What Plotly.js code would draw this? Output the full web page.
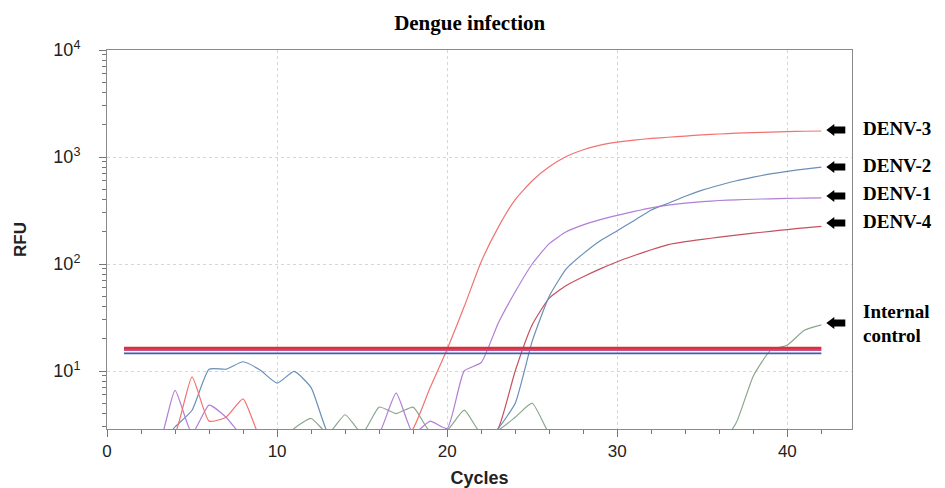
<!DOCTYPE html>
<html>
<head>
<meta charset="utf-8">
<script src="https://cdn.plot.ly/plotly-3.0.1.min.js"></script>
<style>html,body{margin:0;padding:0;background:#fff;}#chart{width:945px;height:488px;}</style>
</head>
<body>
<div id="chart"></div>
<script>
// ---- data ----
var cycles = [1,2,3,4,5,6,7,8,9,10,11,12,13,14,15,16,17,18,19,20,21,22,23,24,25,26,27,28,29,30,31,32,33,34,35,36,37,38,39,40,41,42];

var denv3 = [2.0,2.0,2.0,2.6,8.8,3.4,3.7,5.5,2.4,2.0,2.0,2.0,2.0,2.0,2.0,2.0,2.0,2.9,7.0,16,40,105,220,400,600,810,1010,1170,1290,1375,1440,1490,1530,1570,1610,1640,1670,1690,1710,1725,1740,1750];
var denv2 = [2.0,2.0,2.0,3.0,4.3,10.4,10.4,12.2,10.2,7.7,9.9,7.0,2.6,2.0,2.0,2.0,2.0,2.0,2.0,2.0,2.0,2.0,2.9,5.0,19,50,90,125,165,205,255,320,370,430,490,545,600,648,695,735,770,805];
var denv1 = [2.0,2.0,2.0,6.6,2.6,4.8,3.7,2.4,2.0,2.0,2.0,2.0,2.0,2.0,2.0,2.6,6.2,2.6,3.4,2.9,10,12,28,55,100,155,200,232,260,285,310,335,355,370,382,392,398,403,407,410,413,415];
var denv4 = [2.0,2.0,2.0,2.0,2.0,2.0,2.0,2.0,2.0,2.0,2.0,2.0,2.0,2.0,2.0,2.0,2.0,2.0,2.0,2.0,2.0,2.0,2.9,10,27,48,63,76,90,105,120,136,152,162,170,178,186,194,202,210,218,225];
var internalControl = [2.0,2.0,2.0,2.0,2.0,2.0,2.0,2.0,2.0,2.0,2.9,3.6,2.6,3.9,2.6,4.6,4.0,4.6,2.7,2.8,4.3,2.6,2.8,3.7,5.0,2.6,2.0,2.0,2.0,2.0,2.0,2.0,2.0,2.0,2.0,2.0,3.3,9,15.5,17.5,24,27];

var thresholdCycles = [1, 42];
var thresholdRed = [16.4, 16.4];
var thresholdPink = [15.7, 15.7];
var thresholdBlue = [14.6, 14.6];

var yTickVals = [10, 100, 1000, 10000];
var yTickText = ['10<sup>1</sup>', '10<sup>2</sup>', '10<sup>3</sup>', '10<sup>4</sup>'];

var seriesLabels = ['DENV-3', 'DENV-2', 'DENV-1', 'DENV-4', 'Internal', 'control'];

// ---- styling ----
var sansFont = 'Liberation Sans, Arial, sans-serif';
var serifFont = 'Liberation Serif, Times New Roman, serif';

function curve(y, color, name) {
  return {x: cycles, y: y, type: 'scatter', mode: 'lines', name: name,
          line: {color: color, width: 1.2, shape: 'spline', smoothing: 0.5}, hoverinfo: 'skip'};
}
function thr(y, color, w) {
  return {x: thresholdCycles, y: y, type: 'scatter', mode: 'lines',
          line: {color: color, width: w}, hoverinfo: 'skip'};
}

var traces = [
  curve(internalControl, '#8aa88c', 'Internal control'),
  curve(denv4, '#c4525e', 'DENV-4'),
  curve(denv2, '#6a8fb8', 'DENV-2'),
  curve(denv1, '#b07fd6', 'DENV-1'),
  curve(denv3, '#f27272', 'DENV-3'),
  thr(thresholdBlue, '#3d5fae', 1.6),
  thr(thresholdPink, '#c4508e', 2),
  thr(thresholdRed, '#d8303c', 2.6)
];

// minor y ticks 2..9 in each decade
var yMinor = [3, 4, 5, 6, 7, 8, 9];
for (var d = 10; d <= 1000; d *= 10) { for (var k = 2; k <= 9; k++) yMinor.push(k * d); }

// label / arrow vertical positions in paper fraction
var labelY = [0.792, 0.694, 0.622, 0.548, 0.3113, 0.2480];
var arrowY = [0.789, 0.691, 0.615, 0.5435, 0.280];

var annotations = [];
var shapes = [];
for (var i = 0; i < seriesLabels.length; i++) {
  annotations.push({
    xref: 'paper', yref: 'paper', x: 1.013, y: labelY[i], xanchor: 'left', yanchor: 'middle',
    text: '<b>' + seriesLabels[i] + '</b>', showarrow: false, align: 'left', borderpad: 0,
    font: {family: serifFont, size: 19, color: '#000'}
  });
}
for (var j = 0; j < arrowY.length; j++) {
  shapes.push({
    type: 'path', xref: 'paper', yref: 'paper',
    xsizemode: 'pixel', ysizemode: 'pixel', xanchor: 0.9655, yanchor: arrowY[j],
    path: 'M0,0 L8,6 L8,3.5 L19,3.5 L19,-3.5 L8,-3.5 L8,-6 Z',
    fillcolor: '#000', line: {width: 0}
  });
}

var layout = {
  width: 945, height: 488,
  margin: {l: 107, r: 93, t: 50, b: 59, pad: 0},
  paper_bgcolor: '#fff', plot_bgcolor: '#fff',
  showlegend: false,
  title: {text: '<b>Dengue infection</b>', font: {family: serifFont, size: 21, color: '#000'},
          x: 0.497, xanchor: 'center', y: 0.953, yanchor: 'middle'},
  xaxis: {
    range: [0, 43.8], tickmode: 'linear', tick0: 0, dtick: 10,
    ticks: 'outside', ticklen: 7, tickcolor: '#777', tickwidth: 1,
    showline: true, linecolor: '#8a8a8a', linewidth: 1, mirror: true,
    showgrid: true, gridcolor: '#d6d6d6', griddash: 'dot', gridwidth: 1,
    zeroline: false,
    minor: {tickmode: 'linear', tick0: 0, dtick: 2, ticks: 'outside', ticklen: 4, tickcolor: '#777', showgrid: false},
    tickfont: {family: sansFont, size: 17, color: '#222'},
    title: {text: '<b>Cycles</b>', font: {family: sansFont, size: 18, color: '#222'}, standoff: 12}
  },
  yaxis: {
    type: 'log', range: [0.458, 4],
    tickmode: 'array', tickvals: yTickVals, ticktext: yTickText,
    ticks: 'outside', ticklen: 7, tickcolor: '#777', tickwidth: 1,
    showline: true, linecolor: '#8a8a8a', linewidth: 1, mirror: true,
    showgrid: true, gridcolor: '#d6d6d6', griddash: 'dot', gridwidth: 1,
    zeroline: false,
    minor: {tickmode: 'array', tickvals: yMinor, ticks: 'outside', ticklen: 4, tickcolor: '#777', showgrid: false},
    tickfont: {family: sansFont, size: 18, color: '#222'},
    ticklabelstandoff: 15,
    title: {text: '<b>RFU</b>', font: {family: sansFont, size: 17, color: '#222'}, standoff: 22}
  },
  annotations: annotations,
  shapes: shapes
};

Plotly.newPlot('chart', traces, layout, {displayModeBar: false, staticPlot: true});
</script>
</body>
</html>
